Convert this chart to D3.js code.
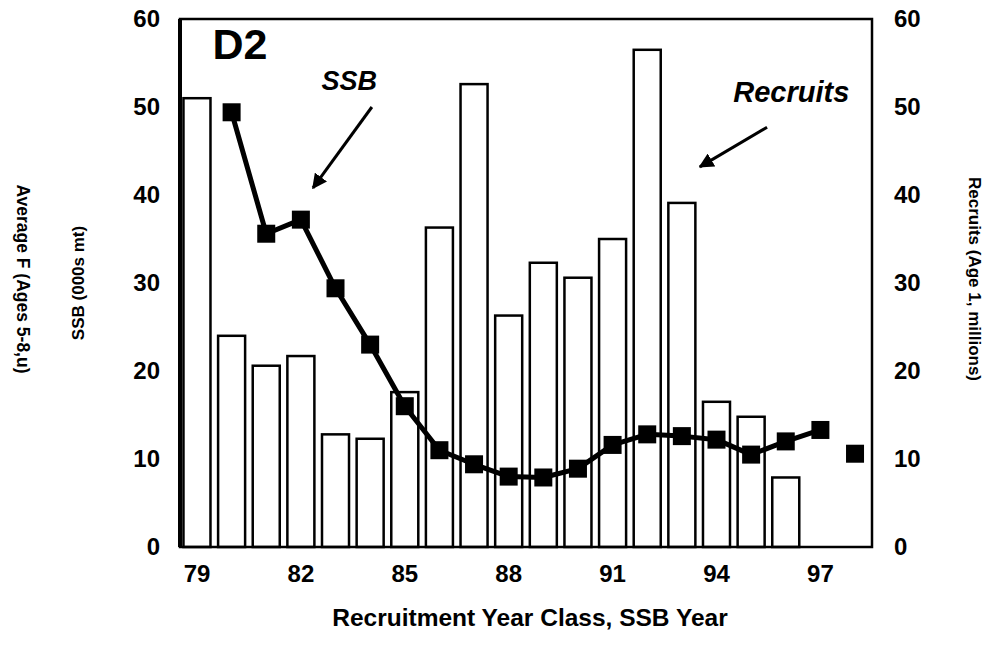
<!DOCTYPE html>
<head>
<meta charset="utf-8">
<style>
body { margin: 0; background: #fff; }
text { font-family: "Liberation Sans", Arial, sans-serif; font-weight: bold; fill: #000; }
.tick text { font-size: 24px; }
.domain, .tick line { display: none; }
</style>
</head>
<body>
<div class="viz"></div>
<script src="https://d3js.org/d3.v7.min.js"></script>
<script>
// recruits (bars) by year class
const barYears = [79, 80, 81, 82, 83, 84, 85, 86, 87, 88, 89, 90, 91, 92, 93, 94, 95, 96];
const recruits = [51, 24, 20.6, 21.7, 12.8, 12.3, 17.6, 36.3, 52.6, 26.3, 32.3, 30.6, 35, 56.5, 39.1, 16.5, 14.8, 7.9];

// SSB line
const ssbYears = [80, 81, 82, 83, 84, 85, 86, 87, 88, 89, 90, 91, 92, 93, 94, 95, 96, 97];
const ssbValues = [49.4, 35.6, 37.2, 29.4, 23, 16, 11, 9.4, 8, 7.9, 8.9, 11.6, 12.8, 12.6, 12.2, 10.5, 12, 13.3];
// unconnected last point
const ssbExtraYears = [98];
const ssbExtraValues = [10.6];

const allYears = d3.range(79, 99);
const xTickLabels = [79, 82, 85, 88, 91, 94, 97];
const yTicks = [0, 10, 20, 30, 40, 50, 60];

const margin = { top: 19, right: 126, bottom: 99, left: 180 };
const width = 998 - margin.left - margin.right;
const height = 646 - margin.top - margin.bottom;

const svg = d3.select(".viz").append("svg")
    .attr("width", 998)
    .attr("height", 646);
const g = svg.append("g")
    .attr("transform", "translate(" + margin.left + "," + margin.top + ")");

const x = d3.scaleBand()
    .domain(allYears)
    .range([0, width])
    .paddingInner(0.22)
    .paddingOuter(0.1);
const cx = function(yr) { return x(yr) + x.bandwidth() / 2; };
// fractional year position, for annotations
const xYear = d3.scaleLinear()
    .domain([79, 98])
    .range([cx(79), cx(98)]);

const yLeft = d3.scaleLinear().domain([0, 60]).range([height, 0]);
const yRight = d3.scaleLinear().domain([0, 60]).range([height, 0]);

// bars
g.selectAll(".bar")
    .data(barYears)
    .enter()
    .append("rect")
        .attr("class", "bar")
        .attr("x", function(d) { return x(d); })
        .attr("y", function(d, i) { return yRight(recruits[i]); })
        .attr("width", x.bandwidth())
        .attr("height", function(d, i) { return height - yRight(recruits[i]); })
        .attr("fill", "#fff")
        .attr("stroke", "#000")
        .attr("stroke-width", 2.5);

// frame
g.append("rect")
    .attr("width", width)
    .attr("height", height)
    .attr("fill", "none")
    .attr("stroke", "#000")
    .attr("stroke-width", 2.5);
g.append("line")
    .attr("x1", 0).attr("x2", 0)
    .attr("y1", 0).attr("y2", height)
    .attr("stroke", "#000")
    .attr("stroke-width", 4);

// SSB line + squares
const line = d3.line()
    .x(function(d) { return cx(d[0]); })
    .y(function(d) { return yLeft(d[1]); });
g.append("path")
    .datum(d3.zip(ssbYears, ssbValues))
    .attr("d", line)
    .attr("fill", "none")
    .attr("stroke", "#000")
    .attr("stroke-width", 5)
    .attr("stroke-linejoin", "round");

const sq = 18;
g.selectAll(".pt")
    .data(d3.zip(ssbYears, ssbValues).concat(d3.zip(ssbExtraYears, ssbExtraValues)))
    .enter()
    .append("rect")
        .attr("class", "pt")
        .attr("x", function(d) { return cx(d[0]) - sq / 2; })
        .attr("y", function(d) { return yLeft(d[1]) - sq / 2; })
        .attr("width", sq)
        .attr("height", sq)
        .attr("fill", "#000");

// axes
const xAxis = d3.axisBottom(x)
    .tickValues(xTickLabels)
    .tickSize(0)
    .tickPadding(18);
g.append("g")
    .attr("transform", "translate(0," + height + ")")
    .call(xAxis);

g.append("g")
    .call(d3.axisLeft(yLeft).tickValues(yTicks).tickSize(0).tickPadding(20));
g.append("g")
    .attr("transform", "translate(" + width + ",0)")
    .call(d3.axisRight(yRight).tickValues(yTicks).tickSize(0).tickPadding(22));

// axis titles
svg.append("text")
    .attr("x", margin.left + width / 2 + 4)
    .attr("y", 626)
    .attr("text-anchor", "middle")
    .style("font-size", "24.5px")
    .text("Recruitment Year Class, SSB Year");

svg.append("text")
    .attr("transform", "translate(78," + (margin.top + 264) + ") rotate(-90)")
    .attr("text-anchor", "middle")
    .attr("dy", "0.35em")
    .style("font-size", "17px")
    .text("SSB (000s mt)");

svg.append("text")
    .attr("transform", "translate(23," + (margin.top + 260) + ") rotate(90)")
    .attr("text-anchor", "middle")
    .attr("dy", "0.35em")
    .style("font-size", "17.5px")
    .text("Average F (Ages 5-8,u)");

svg.append("text")
    .attr("transform", "translate(975," + (margin.top + 260) + ") rotate(90)")
    .attr("text-anchor", "middle")
    .attr("dy", "0.35em")
    .style("font-size", "17px")
    .text("Recruits (Age 1, millions)");

// annotations
svg.append("defs").append("marker")
    .attr("id", "head")
    .attr("viewBox", "0 0 10 10")
    .attr("refX", 9).attr("refY", 5)
    .attr("markerWidth", 5).attr("markerHeight", 5)
    .attr("orient", "auto")
    .append("path")
        .attr("d", "M0,0 L10,5 L0,10 z")
        .attr("fill", "#000");

g.append("text")
    .attr("x", xYear(79.45))
    .attr("y", yLeft(55.5))
    .style("font-size", "43px")
    .text("D2");

g.append("text")
    .attr("x", xYear(83.4))
    .attr("y", yLeft(51.9))
    .attr("text-anchor", "middle")
    .style("font-size", "27px")
    .style("font-style", "italic")
    .text("SSB");
g.append("line")
    .attr("x1", xYear(84.05)).attr("y1", yLeft(50))
    .attr("x2", xYear(82.35)).attr("y2", yLeft(40.8))
    .attr("stroke", "#000")
    .attr("stroke-width", 3)
    .attr("marker-end", "url(#head)");

g.append("text")
    .attr("x", xYear(96.16))
    .attr("y", yRight(50.6))
    .attr("text-anchor", "middle")
    .style("font-size", "29px")
    .style("font-style", "italic")
    .text("Recruits");
g.append("line")
    .attr("x1", xYear(95.46)).attr("y1", yRight(47.7))
    .attr("x2", xYear(93.52)).attr("y2", yRight(43.2))
    .attr("stroke", "#000")
    .attr("stroke-width", 3)
    .attr("marker-end", "url(#head)");
</script>
</body>
